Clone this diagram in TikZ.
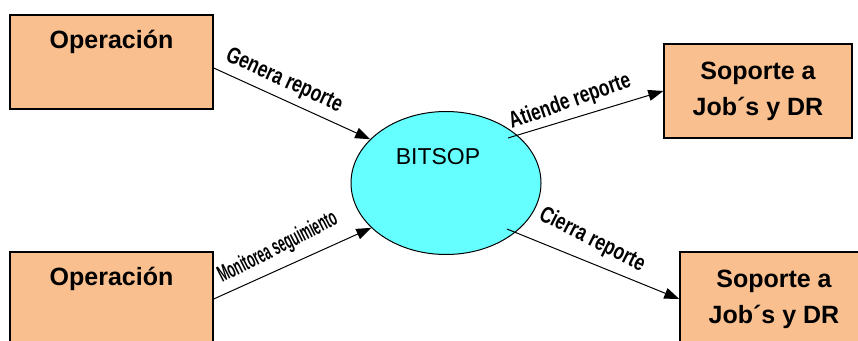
\documentclass[tikz,border=0pt]{standalone}
\usepackage{fontspec}
\setmainfont{Liberation Sans}
\usetikzlibrary{arrows.meta,shapes.geometric,calc}
\definecolor{peach}{HTML}{F9BF8F}
\definecolor{cyanfill}{HTML}{66FFFF}
\tikzset{
  box/.style={draw=black, line width=1.4pt, fill=peach, minimum width=#1, minimum height=94pt, inner sep=0pt},
  box/.default=188pt,
  boxtext/.style={font=\fontsize{25}{36}\selectfont\bfseries, align=center},
  toplabel/.style={label={[anchor=north, inner sep=0pt, yshift=-16pt, font=\fontsize{25}{30}\selectfont\bfseries]north:#1}},
  flow/.style={draw=black, line width=1pt, -{Triangle[length=15pt,width=11pt]}},
  flowlabel/.style={font=\fontsize{23}{26}\selectfont\bfseries, inner sep=0pt},
}
\begin{document}
\begin{tikzpicture}[x=1pt,y=-1pt]
\useasboundingbox (0,0) rectangle (858,340);
% boxes
\node[box=203pt, toplabel={Operación}] (op1) at (111.5,62) {};
\node[box=203pt, toplabel={Operación}] (op2) at (111.5,299) {};
\node[box, boxtext] (sj1) at (758,91) {Soporte a\\Job´s y DR};
\node[box, boxtext] (sj2) at (774,299) {Soporte a\\Job´s y DR};
% process
\node[ellipse, draw=black, line width=1pt, fill=cyanfill, minimum width=190pt, minimum height=143pt, inner sep=0pt] (bitsop) at (446,183) {};
\node[font=\fontsize{23}{26}\selectfont, inner sep=0pt] (bitsoptext) at (438,157) {BITSOP};
% free starts
\coordinate (s2) at ($(bitsop.center)+(62,-45)$);
\coordinate (s4) at ($(bitsop.center)+(61,46)$);
\coordinate (s1) at ($(op1.east)+(0,6)$);
% connectors
\draw[flow] (s1) -- (bitsop.150);
\draw[flow] (op2.east) -- (bitsop.211);
\draw[flow] (s2) -- (sj1.west);
\draw[flow] (s4) -- (sj2.west);
% labels
\node[flowlabel, rotate=-24.5] (l1) at (284,81) {\scalebox{0.76}[1]{Genera reporte}};
\node[flowlabel, rotate=19.5] (l2) at (570,102) {\scalebox{0.75}[1]{Atiende reporte}};
\node[flowlabel, rotate=27] (l3) at (278,248) {\scalebox{0.52}[1]{Monitorea seguimiento}};
\node[flowlabel, rotate=-27] (l4) at (592,240) {\scalebox{0.76}[1]{Cierra reporte}};
\end{tikzpicture}
\end{document}
